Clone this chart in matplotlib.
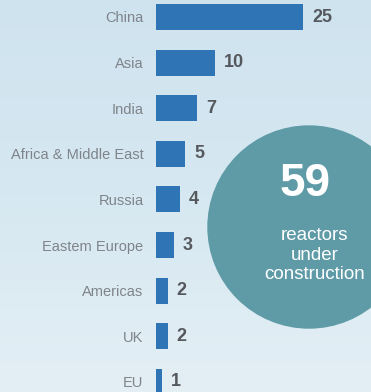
import numpy as np
import matplotlib.pyplot as plt
from matplotlib.patches import Circle
from matplotlib.colors import LinearSegmentedColormap

regions = ["China", "Asia", "India", "Africa & Middle East", "Russia",
           "Eastem Europe", "Americas", "UK", "EU"]
reactors = [25, 10, 7, 5, 4, 3, 2, 2, 1]
total = 59
caption = "reactors\nunder\nconstruction"

W, H = 371, 392
fig = plt.figure(figsize=(W / 100, H / 100), dpi=100)

# sky background, pixel coordinates
bg = fig.add_axes([0, 0, 1, 1])
bg.set_xlim(0, W)
bg.set_ylim(H, 0)
bg.axis("off")
sky = LinearSegmentedColormap.from_list("sky", ["#cfe3ef", "#d6e8f1", "#e4eff5"])
grad = np.linspace(0, 1, 256).reshape(-1, 1)
bg.imshow(grad, cmap=sky, extent=[0, W, H, 0], aspect="auto", zorder=0)

# teal badge with the total
bg.add_patch(Circle((309, 227), 101, color="#5e9ba7", zorder=1))
bg.text(305, 184, str(total), color="white", fontsize=33, fontweight="bold",
        ha="center", va="center", family="Liberation Sans", zorder=2)
bg.text(315, 255, caption, color="white", fontsize=13.5, ha="center", va="center",
        linespacing=1.2, family="Liberation Sans", zorder=2)

# bar chart
x0 = 156
px_per_unit = 147 / 25
step = 45.6
ax = fig.add_axes([x0 / W, 0, 1 - x0 / W, 1])
ax.patch.set_alpha(0)
y = np.arange(len(regions))
ax.barh(y, reactors, height=0.57, color="#2f74b5", zorder=3)
ax.set_xlim(0, (W - x0) / px_per_unit)
ax.set_ylim((H - 17) / step, -17 / step)
ax.set_yticks(y)
ax.set_yticklabels(regions, color="#7f848a", fontsize=10.5, family="Liberation Sans")
ax.tick_params(axis="y", length=0, pad=9)
ax.set_xticks([])
for s in ax.spines.values():
    s.set_visible(False)

for yi, v in zip(y, reactors):
    ax.text(v + 9 / px_per_unit, yi, str(v), color="#55595e", fontsize=13,
            fontweight="bold", va="center", ha="left", family="Liberation Sans")

fig.savefig("out.png", dpi=100)
